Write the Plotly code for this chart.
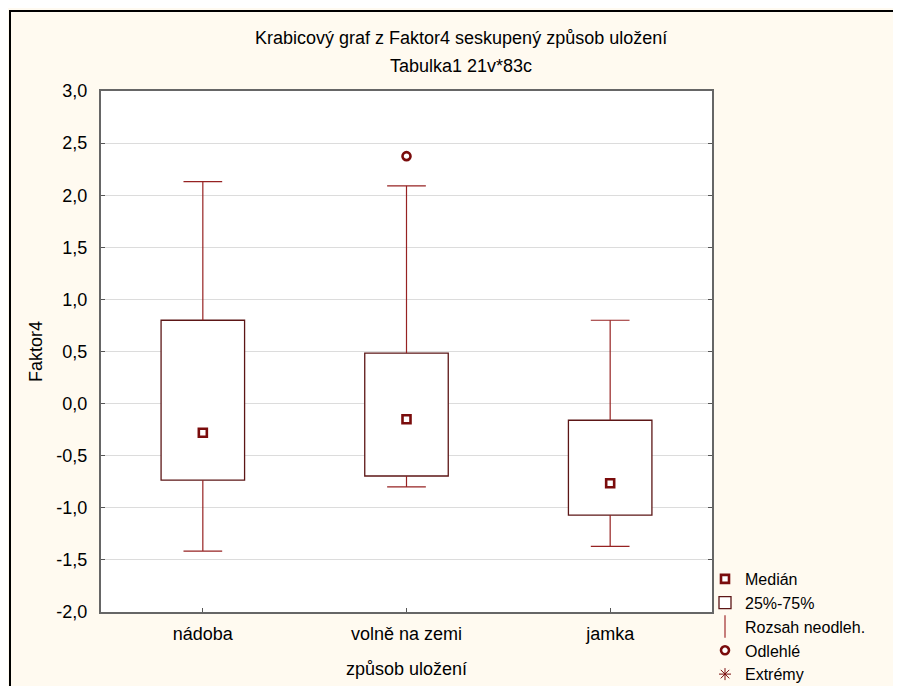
import plotly.graph_objects as go

categories = ["nádoba", "volně na zemi", "jamka"]
q1 = [-0.735, -0.695, -1.07]
median = [-0.28, -0.15, -0.765]
q3 = [0.80, 0.485, -0.16]
whisk_low = [-1.415, -0.80, -1.37]
whisk_high = [2.13, 2.09, 0.80]
outlier_cat = [1]
outlier_val = [2.375]
y_ticks = [-2.0, -1.5, -1.0, -0.5, 0.0, 0.5, 1.0, 1.5, 2.0, 2.5, 3.0]

DARK = "#7a0c0c"
BOXLINE = "#5c1616"
WHISK = "#962222"
FONT = "Liberation Sans, Arial, sans-serif"
FS = 18
xs = list(range(len(categories)))
BOXW = 0.41
CAPW = 0.19

fig = go.Figure()

# boxes
fig.add_trace(go.Bar(
    x=xs, y=[b - a for a, b in zip(q1, q3)], base=q1, width=BOXW,
    marker=dict(color="white", line=dict(color=BOXLINE, width=1.3)),
    name="25%-75%", legendrank=2, hoverinfo="skip"))

# whiskers
wx, wy = [], []
for i in xs:
    wx += [i, i, None, i, i, None]
    wy += [q3[i], whisk_high[i], None, q1[i], whisk_low[i], None]
    wx += [i - CAPW / 2, i + CAPW / 2, None, i - CAPW / 2, i + CAPW / 2, None]
    wy += [whisk_high[i], whisk_high[i], None, whisk_low[i], whisk_low[i], None]
fig.add_trace(go.Scatter(x=wx, y=wy, mode="lines",
                         line=dict(color=WHISK, width=1.2),
                         showlegend=False, hoverinfo="skip"))
fig.add_trace(go.Scatter(x=[None], y=[None], mode="markers",
                         marker=dict(symbol="line-ns-open", size=17, color="#a83c3c",
                                     line=dict(color="#a83c3c", width=1.3)),
                         name="Rozsah neodleh.", legendrank=3))

# medians
fig.add_trace(go.Scatter(x=xs, y=median, mode="markers",
                         marker=dict(symbol="square", size=8, color="white",
                                     line=dict(color=DARK, width=2.6)),
                         name="Medián", legendrank=1))
# outliers
fig.add_trace(go.Scatter(x=outlier_cat, y=outlier_val, mode="markers",
                         marker=dict(symbol="circle", size=8, color="white",
                                     line=dict(color=DARK, width=2.6)),
                         name="Odlehlé", legendrank=4))
# extremes (none present)
fig.add_trace(go.Scatter(x=[None], y=[None], mode="markers",
                         marker=dict(symbol="asterisk-open", size=10, color=DARK,
                                     line=dict(color=DARK, width=1)),
                         name="Extrémy", legendrank=5))

# page is offset by the 8px body margin
W, H = 893, 678
L, R, T, B = 93, 189, 83, 74
PL, PT = 101, 91  # plot origin in page pixels
pw, ph = W - L - R, H - T - B


def px2x(px):
    return (px - PL) / pw


def py2y(py):
    return (PT + ph - py) / ph


fig.update_layout(
    width=W, height=H,
    margin=dict(l=L, r=R, t=T, b=B, autoexpand=False),
    paper_bgcolor="#fffaf0",
    plot_bgcolor="white",
    font=dict(family=FONT, size=FS, color="black"),
    showlegend=True,
    legend=dict(x=px2x(705), y=py2y(562), xanchor="left", yanchor="top",
                bgcolor="rgba(0,0,0,0)", font=dict(size=16, family=FONT),
                tracegroupgap=0, itemwidth=30),
    xaxis=dict(range=[-0.5, 2.5], tickvals=xs, ticktext=categories,
               ticks="inside", ticklen=4, tickcolor="#555", automargin=False,
               showline=True, linecolor="#666", linewidth=2, mirror=True,
               showgrid=False, zeroline=False, ticklabelstandoff=4,
               title=dict(text="způsob uložení", standoff=20,
                          font=dict(size=FS)),
               tickfont=dict(size=FS)),
    yaxis=dict(range=[-2, 3], tickvals=y_ticks,
               ticktext=[f"{v:.1f}".replace(".", ",") for v in y_ticks],
               ticks="inside", ticklen=4, tickcolor="#555", automargin=False,
               showline=True, linecolor="#666", linewidth=2, mirror="ticks",
               showgrid=True, gridcolor="#dcdcdc", gridwidth=1,
               zeroline=False, ticklabelstandoff=8,
               title=dict(text="Faktor4", standoff=9, font=dict(size=FS)),
               tickfont=dict(size=FS)),
    annotations=[
        dict(text="Krabicový graf z Faktor4 seskupený způsob uložení",
             xref="paper", yref="paper", x=px2x(461), y=py2y(38),
             xanchor="center", yanchor="middle", showarrow=False,
             font=dict(size=FS, family=FONT)),
        dict(text="Tabulka1 21v*83c",
             xref="paper", yref="paper", x=px2x(461), y=py2y(66),
             xanchor="center", yanchor="middle", showarrow=False,
             font=dict(size=FS, family=FONT)),
    ],
    shapes=[
        dict(type="rect", xref="paper", yref="paper",
             x0=px2x(10), x1=px2x(960), y0=py2y(720), y1=py2y(11),
             line=dict(color="black", width=2), layer="below"),
    ],
)

fig.write_html("out.html")
